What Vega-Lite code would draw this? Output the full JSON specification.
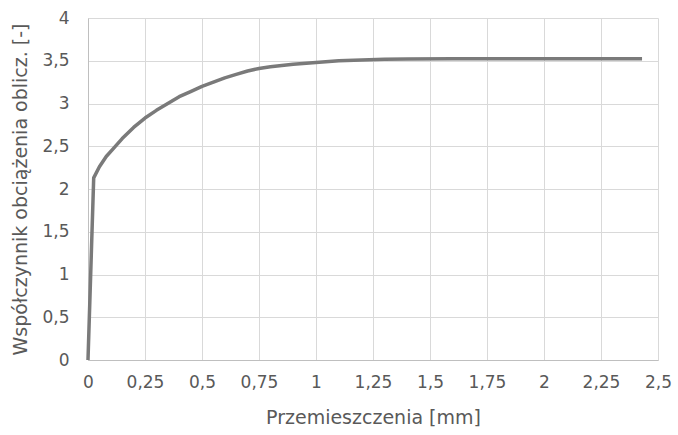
{
  "$schema": "https://vega.github.io/schema/vega-lite/v6.json",
  "autosize": "none",
  "width": 570,
  "height": 342,
  "padding": {"left": 88, "top": 18, "right": 20, "bottom": 75},
  "background": "white",
  "data": {"values": [
    {"x": 0, "y": 0},
    {"x": 0.025, "y": 2.13},
    {"x": 0.05, "y": 2.26},
    {"x": 0.08, "y": 2.38},
    {"x": 0.11, "y": 2.47},
    {"x": 0.15, "y": 2.59},
    {"x": 0.2, "y": 2.72},
    {"x": 0.25, "y": 2.83},
    {"x": 0.3, "y": 2.92},
    {"x": 0.35, "y": 3.0},
    {"x": 0.4, "y": 3.08},
    {"x": 0.45, "y": 3.14},
    {"x": 0.5, "y": 3.2},
    {"x": 0.55, "y": 3.25},
    {"x": 0.6, "y": 3.3},
    {"x": 0.65, "y": 3.34},
    {"x": 0.7, "y": 3.38},
    {"x": 0.75, "y": 3.41},
    {"x": 0.8, "y": 3.43},
    {"x": 0.9, "y": 3.46},
    {"x": 1.0, "y": 3.48},
    {"x": 1.1, "y": 3.5},
    {"x": 1.2, "y": 3.51},
    {"x": 1.3, "y": 3.517},
    {"x": 1.4, "y": 3.52},
    {"x": 1.6, "y": 3.522},
    {"x": 2.0, "y": 3.522},
    {"x": 2.43, "y": 3.522}
  ]},
  "mark": {"type": "line", "color": "#7a7a7a", "strokeWidth": 3.5, "interpolate": "linear", "strokeJoin": "round"},
  "encoding": {
    "x": {
      "field": "x", "type": "quantitative",
      "scale": {"domain": [0, 2.5], "nice": false},
      "axis": {
        "title": "Przemieszczenia [mm]",
        "values": [0, 0.25, 0.5, 0.75, 1, 1.25, 1.5, 1.75, 2, 2.25, 2.5],
        "labelExpr": "replace(format(datum.value, ''), '.', ',')",
        "labelFlush": false,
        "labelPadding": 14,
        "titlePadding": 18
      }
    },
    "y": {
      "field": "y", "type": "quantitative",
      "scale": {"domain": [0, 4], "nice": false},
      "axis": {
        "title": "Współczynnik obciążenia oblicz. [-]",
        "values": [0, 0.5, 1, 1.5, 2, 2.5, 3, 3.5, 4],
        "labelExpr": "replace(format(datum.value, ''), '.', ',')",
        "labelFlush": false,
        "labelPadding": 19,
        "titlePadding": 11
      }
    }
  },
  "config": {
    "view": {"stroke": null},
    "font": "DejaVu Sans",
    "axis": {
      "labelFont": "DejaVu Sans",
      "titleFont": "DejaVu Sans",
      "labelFontSize": 17,
      "titleFontSize": 19,
      "titleFontWeight": "normal",
      "labelColor": "#595959",
      "titleColor": "#595959",
      "gridColor": "#d9d9d9",
      "gridWidth": 1,
      "domainColor": "#bfbfbf",
      "ticks": false
    }
  }
}
